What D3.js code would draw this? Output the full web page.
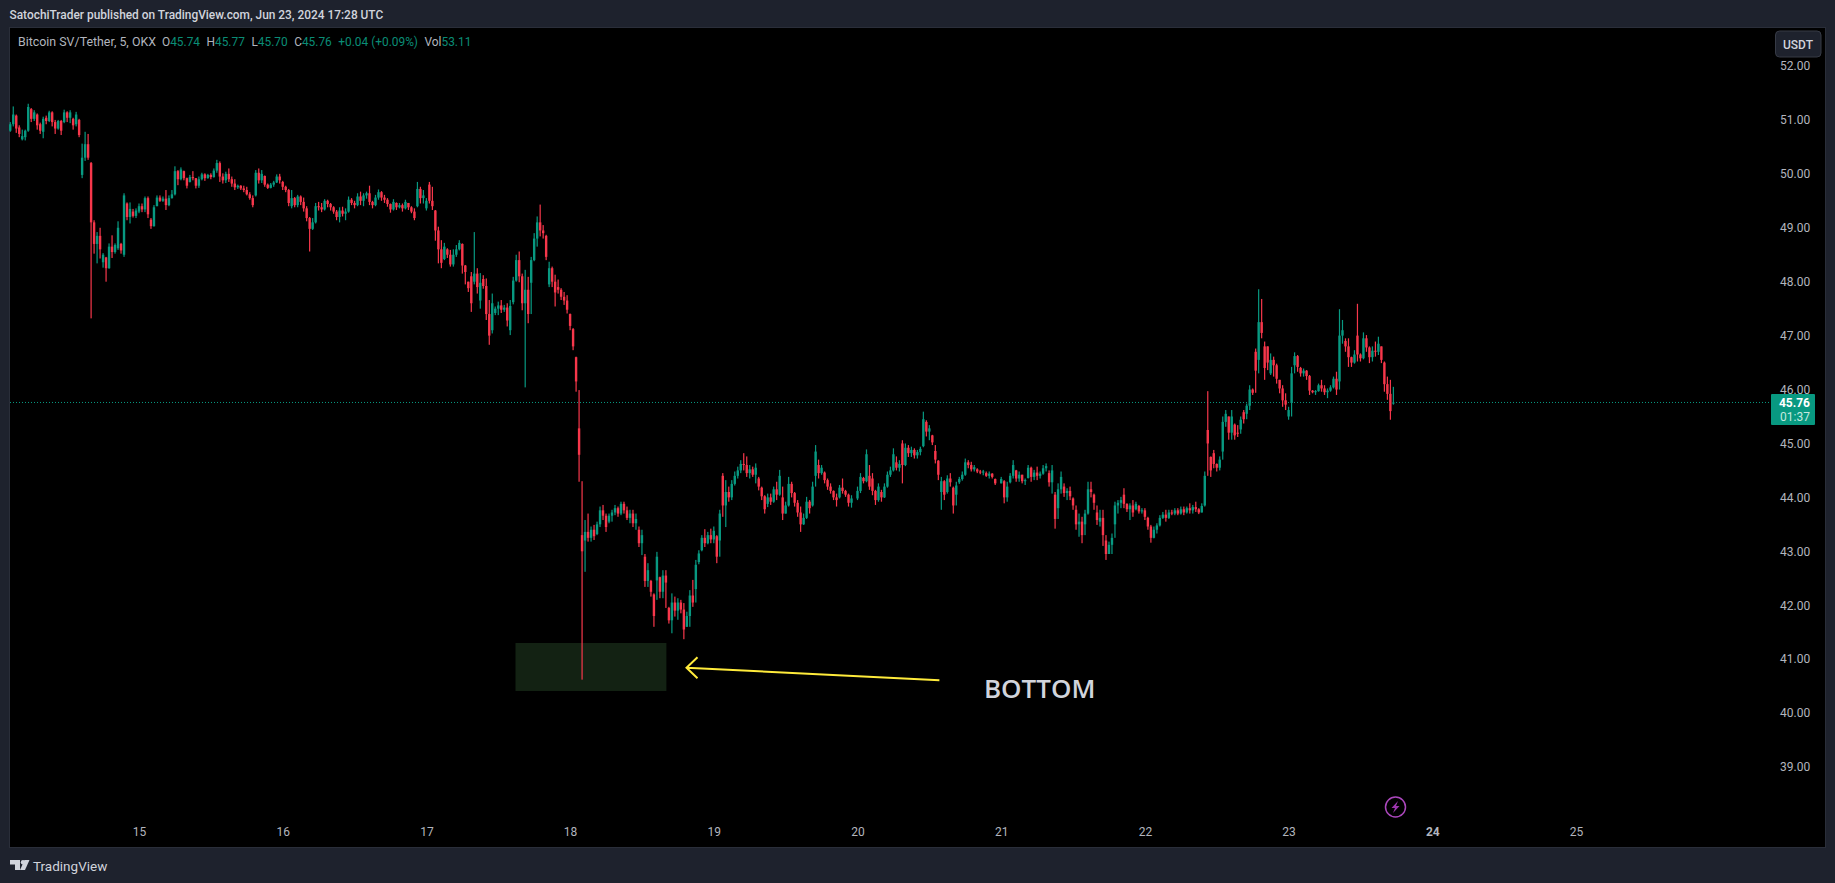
<!DOCTYPE html>
<html>
<head>
<meta charset="utf-8">
<script src="https://cdn.jsdelivr.net/npm/d3@7"></script>
<style>
  html, body { margin: 0; padding: 0; background: #1e222d; overflow: hidden; }
  svg { display: block; font-family: Roboto, sans-serif; }
</style>
</head>
<body>
<svg id="chart" width="1835" height="883"></svg>
<script>
// 30 minute rows: [open, high, low, close]
const june14 = [[50.80,50.96,50.78,50.92],[50.92,51.25,50.88,51.10],[51.08,51.10,50.76,50.84],[50.86,50.90,50.68,50.74],[50.64,50.82,50.62,50.70],[50.68,50.82,50.62,50.80],[50.80,51.30,50.78,51.24],[51.20,51.22,50.96,51.02],[51.02,51.18,50.98,51.14],[51.10,51.12,50.82,50.90],[50.92,50.95,50.74,50.80],[50.78,51.06,50.66,51.02],[51.04,51.08,50.92,50.98],[50.98,51.17,50.96,51.14],[51.14,51.16,50.88,50.96],[50.96,51.00,50.74,50.84],[50.84,51.00,50.82,50.98],[50.98,51.00,50.72,50.80],[50.96,51.19,50.94,51.14],[51.14,51.16,50.96,51.04],[51.04,51.18,50.94,51.14],[51.02,51.04,50.82,50.90],[50.92,51.15,50.88,51.10],[51.00,51.02,50.68,50.72],[49.98,50.56,49.92,50.30],[50.30,50.78,50.24,50.55],[50.55,50.74,50.26,50.30],[50.20,50.22,47.32,49.10],[49.10,49.14,48.52,48.70],[48.70,48.92,48.34,48.85],[48.85,49.00,48.43,48.60],[48.36,48.53,48.26,48.50],[48.45,48.46,48.00,48.25],[48.25,48.71,48.24,48.65],[48.65,48.86,48.44,48.55],[48.55,48.71,48.52,48.68],[48.62,49.12,48.59,49.00],[48.70,48.72,48.52,48.58],[48.50,49.64,48.46,49.60],[49.45,49.47,49.14,49.20],[49.20,49.47,49.08,49.35],[49.30,49.35,49.19,49.22],[49.22,49.36,49.18,49.32]]
const june15 = [[49.30,49.45,49.27,49.40],[49.40,49.45,49.29,49.34],[49.34,49.58,49.29,49.55],[49.55,49.58,49.18,49.25],[49.15,49.18,48.98,49.03],[49.03,49.42,49.02,49.38],[49.40,49.60,49.40,49.56],[49.56,49.60,49.48,49.50],[49.50,49.58,49.48,49.54],[49.54,49.70,49.33,49.42],[49.42,49.60,49.40,49.55],[49.55,49.70,49.54,49.62],[49.62,50.14,49.60,50.05],[50.05,50.07,49.79,49.90],[49.90,50.12,49.88,50.08],[50.05,50.06,49.88,49.92],[49.92,49.93,49.73,49.78],[49.85,49.98,49.84,49.94],[49.94,50.05,49.88,49.92],[49.92,49.92,49.73,49.78],[49.78,49.95,49.74,49.90],[49.90,50.02,49.88,49.99],[49.99,50.01,49.87,49.92],[49.92,50.00,49.91,49.98],[49.98,50.01,49.90,49.94],[49.94,50.10,49.93,50.06],[50.06,50.26,50.02,50.20],[50.20,50.23,49.85,49.95],[49.95,50.01,49.82,49.88],[49.88,50.04,49.83,50.00],[50.00,50.10,49.85,49.90],[49.90,49.95,49.76,49.82],[49.82,49.90,49.70,49.75],[49.75,49.80,49.72,49.78],[49.78,49.79,49.70,49.73],[49.73,49.78,49.66,49.70],[49.70,49.76,49.60,49.62],[49.62,49.66,49.52,49.55],[49.55,49.60,49.38,49.42],[49.60,50.07,49.58,50.02],[50.02,50.10,49.82,49.88],[49.88,50.07,49.83,50.00],[49.96,49.97,49.76,49.80],[49.80,49.82,49.72,49.74],[49.74,49.83,49.73,49.80],[49.80,49.87,49.76,49.84],[49.84,49.99,49.83,49.95],[49.95,50.00,49.82,49.88]]
const june16 = [[49.85,49.87,49.70,49.76],[49.76,49.78,49.66,49.70],[49.70,49.72,49.40,49.46],[49.40,49.70,49.36,49.55],[49.55,49.57,49.38,49.42],[49.42,49.61,49.38,49.58],[49.58,49.60,49.42,49.48],[49.48,49.56,49.30,49.36],[49.36,49.40,49.12,49.18],[49.18,49.20,48.56,48.98],[48.98,49.18,48.96,49.10],[49.10,49.46,49.08,49.40],[49.40,49.48,49.32,49.38],[49.38,49.46,49.29,49.34],[49.34,49.53,49.32,49.50],[49.50,49.52,49.38,49.44],[49.44,49.46,49.32,49.38],[49.38,49.40,49.26,49.30],[49.30,49.33,49.14,49.20],[49.20,49.38,49.10,49.32],[49.32,49.39,49.21,49.26],[49.26,49.36,49.14,49.30],[49.30,49.58,49.28,49.52],[49.52,49.55,49.42,49.46],[49.46,49.50,49.36,49.42],[49.42,49.64,49.40,49.58],[49.58,49.67,49.42,49.50],[49.50,49.64,49.40,49.60],[49.60,49.67,49.54,49.64],[49.64,49.78,49.42,49.48],[49.48,49.50,49.36,49.42],[49.42,49.61,49.40,49.56],[49.56,49.71,49.52,49.66],[49.66,49.68,49.50,49.56],[49.56,49.61,49.46,49.52],[49.52,49.55,49.39,49.44],[49.44,49.45,49.28,49.34],[49.34,49.53,49.32,49.48],[49.46,49.47,49.33,49.38],[49.38,49.46,49.36,49.42],[49.42,49.45,49.30,49.36],[49.36,49.52,49.34,49.48],[49.46,49.46,49.33,49.38],[49.38,49.40,49.27,49.30],[49.30,49.36,49.14,49.18],[49.40,49.85,49.38,49.72],[49.72,49.76,49.45,49.55],[49.55,49.70,49.45,49.60]]
const june17 = [[49.36,49.55,49.32,49.50],[49.80,49.85,49.45,49.50],[49.50,49.76,49.33,49.40],[49.32,49.33,48.76,48.95],[48.95,49.02,48.34,48.60],[48.60,48.77,48.25,48.35],[48.42,48.72,48.40,48.65],[48.60,48.62,48.44,48.50],[48.50,48.59,48.28,48.32],[48.32,48.60,48.28,48.50],[48.50,48.68,48.46,48.60],[48.60,48.77,48.58,48.72],[48.70,48.71,48.15,48.30],[48.30,48.31,47.95,48.18],[48.00,48.00,47.81,47.88],[48.10,48.18,47.44,47.60],[48.00,48.92,47.95,48.15],[48.15,48.25,47.78,47.90],[47.65,48.16,47.50,47.98],[48.05,48.12,47.87,47.92],[47.92,48.06,47.29,47.40],[47.40,47.66,46.83,47.00],[47.10,47.78,47.04,47.60],[47.42,47.54,47.38,47.50],[47.50,47.63,47.38,47.56],[47.56,47.66,47.42,47.48],[47.48,47.57,47.44,47.52],[47.52,47.60,47.17,47.28],[47.10,47.66,47.01,47.55],[47.62,48.09,47.58,48.02],[48.02,48.50,48.00,48.40],[48.40,48.56,47.99,48.10],[48.10,48.15,47.47,47.60],[47.60,48.22,46.04,47.85],[47.85,48.09,47.23,47.40],[47.98,48.46,47.40,48.40],[48.40,48.90,48.38,48.80],[48.80,49.21,48.65,49.10],[49.10,49.43,48.84,48.95],[48.95,49.05,48.80,48.90],[48.85,48.87,48.40,48.46],[47.95,48.37,47.90,48.25],[48.25,48.28,47.90,48.00],[48.00,48.13,47.54,47.80],[47.90,48.04,47.78,47.85],[47.85,47.88,47.66,47.72],[47.72,47.81,47.57,47.65],[47.65,47.75,47.41,47.48]]
const june18 = [[47.40,47.41,47.10,47.18],[47.12,47.14,46.73,46.80],[46.60,46.61,45.96,46.15],[45.28,45.99,44.29,44.79],[43.30,44.30,40.62,43.00],[43.20,43.58,42.62,43.36],[43.36,43.70,43.18,43.25],[43.25,43.46,43.18,43.40],[43.40,43.49,43.21,43.28],[43.32,43.55,43.30,43.50],[43.50,43.83,43.45,43.76],[43.76,43.86,43.58,43.66],[43.66,43.70,43.36,43.45],[43.55,43.70,43.52,43.66],[43.66,43.77,43.55,43.72],[43.72,43.86,43.67,43.80],[43.80,43.83,43.64,43.70],[43.70,43.92,43.67,43.88],[43.88,43.92,43.70,43.76],[43.76,43.83,43.58,43.62],[43.62,43.77,43.52,43.70],[43.70,43.77,43.45,43.52],[43.52,43.70,43.40,43.60],[43.40,43.46,43.08,43.15],[43.15,43.40,42.93,43.30],[42.90,42.95,42.34,42.45],[42.45,42.78,42.34,42.65],[42.45,42.47,42.16,42.25],[42.20,42.22,41.60,41.80],[42.46,42.99,42.10,42.90],[42.52,42.53,42.13,42.25],[42.25,42.65,42.13,42.55],[42.55,42.65,41.95,42.42],[41.95,41.97,41.66,41.72],[41.72,42.22,41.48,42.05],[42.05,42.16,41.79,41.90],[41.90,42.13,41.73,42.05],[42.05,42.10,41.85,41.92],[41.92,42.04,41.37,41.55],[41.60,41.88,41.60,41.80],[41.80,42.28,41.60,42.18],[42.18,42.47,41.97,42.05],[42.30,42.84,42.05,42.75],[42.80,43.02,42.76,42.96],[43.02,43.30,43.00,43.25],[43.25,43.41,43.08,43.15],[43.15,43.36,43.13,43.30],[43.30,43.42,43.15,43.22]]
const june19 = [[43.22,43.46,43.15,43.38],[43.28,43.30,42.78,42.90],[43.20,43.77,42.90,43.70],[44.40,44.45,43.64,43.85],[43.85,44.32,43.45,44.10],[44.10,44.20,43.92,44.00],[44.00,44.32,43.95,44.25],[44.25,44.48,44.22,44.40],[44.40,44.57,44.35,44.50],[44.50,44.69,44.45,44.62],[44.62,44.82,44.50,44.60],[44.60,44.76,44.38,44.45],[44.45,44.60,44.35,44.52],[44.52,44.57,44.38,44.42],[44.42,44.63,44.26,44.55],[44.35,44.38,44.13,44.20],[44.18,44.20,43.95,44.02],[44.02,44.04,43.70,43.78],[43.88,44.07,43.82,44.00],[44.00,44.07,43.86,43.92],[43.92,44.20,43.90,44.15],[44.15,44.29,43.95,44.05],[44.05,44.51,44.03,44.40],[44.00,44.20,43.58,43.70],[43.70,43.92,43.70,43.85],[43.85,44.38,43.83,44.25],[44.25,44.29,44.00,44.08],[44.08,44.10,43.83,43.90],[43.90,43.95,43.64,43.72],[43.72,43.83,43.36,43.50],[43.50,43.70,43.49,43.62],[43.62,44.01,43.60,43.92],[43.92,43.95,43.70,43.80],[43.85,44.29,43.83,44.20],[44.40,44.97,44.20,44.85],[44.60,44.70,44.35,44.45],[44.45,44.60,44.42,44.55],[44.46,44.48,44.26,44.32],[44.32,44.35,44.14,44.20],[44.20,44.26,44.07,44.12],[44.12,44.13,43.95,44.00],[44.00,44.07,43.83,43.95],[44.00,44.23,43.98,44.18],[44.18,44.35,44.07,44.12],[44.12,44.14,44.01,44.05],[44.05,44.07,43.83,43.90],[43.90,44.04,43.81,43.98]]
const june20 = [[43.98,44.20,43.95,44.12],[44.12,44.45,44.08,44.38],[44.36,44.38,44.26,44.30],[44.30,44.89,44.28,44.80],[44.40,44.60,44.14,44.20],[44.35,44.45,44.04,44.12],[44.12,44.14,43.86,43.95],[43.95,44.26,43.92,44.20],[44.10,44.14,43.92,44.00],[44.00,44.26,43.99,44.20],[44.20,44.48,44.18,44.42],[44.42,44.57,44.38,44.50],[44.50,44.91,44.48,44.80],[44.65,44.76,44.50,44.55],[44.55,44.69,44.48,44.62],[45.00,45.06,44.26,44.60],[44.60,45.00,44.58,44.92],[44.92,44.97,44.75,44.82],[44.82,44.94,44.75,44.88],[44.88,44.91,44.72,44.78],[44.78,44.88,44.72,44.84],[44.84,44.94,44.78,44.90],[44.95,45.59,44.93,45.45],[45.40,45.43,45.13,45.22],[45.22,45.34,45.06,45.28],[45.15,45.16,44.97,45.02],[44.86,44.97,44.63,44.70],[44.68,44.69,44.32,44.42],[44.10,44.38,43.77,44.30],[44.30,44.32,43.95,44.05],[44.10,44.41,44.07,44.35],[44.35,44.45,44.20,44.28],[44.18,44.20,43.70,43.85],[44.05,44.29,43.85,44.22],[44.28,44.38,44.25,44.34],[44.34,44.48,44.31,44.42],[44.42,44.72,44.40,44.65],[44.65,44.69,44.54,44.60],[44.60,44.66,44.48,44.52],[44.52,44.60,44.48,44.56],[44.52,44.54,44.45,44.48],[44.48,44.51,44.43,44.46],[44.46,44.51,44.41,44.48],[44.45,44.48,44.38,44.40],[44.40,44.48,44.35,44.44],[44.44,44.45,44.35,44.38],[44.34,44.35,44.23,44.26]]
const june21 = [[44.26,44.38,44.26,44.34],[44.30,44.32,43.89,44.00],[44.00,44.29,43.92,44.20],[44.28,44.45,44.26,44.40],[44.40,44.69,44.35,44.60],[44.50,44.51,44.29,44.35],[44.35,44.48,44.29,44.42],[44.42,44.42,44.26,44.30],[44.30,44.35,44.23,44.32],[44.36,44.60,44.35,44.55],[44.55,44.57,44.29,44.38],[44.38,44.51,44.32,44.46],[44.46,44.57,44.32,44.40],[44.40,44.48,44.35,44.44],[44.44,44.60,44.42,44.54],[44.54,44.63,44.48,44.58],[44.45,44.50,44.20,44.28],[44.28,44.60,44.07,44.50],[44.05,44.10,43.42,43.60],[43.80,44.26,43.60,44.15],[44.15,44.48,44.07,44.38],[44.20,44.26,44.01,44.08],[44.08,44.17,43.95,44.12],[44.12,44.20,43.95,44.02],[43.98,44.00,43.77,43.85],[43.77,43.85,43.40,43.50],[43.50,43.70,43.27,43.55],[43.55,43.64,43.15,43.30],[43.50,43.77,43.30,43.70],[43.70,44.29,43.68,44.15],[44.15,44.29,44.00,44.10],[44.05,44.07,43.77,43.90],[43.72,43.85,43.49,43.58],[43.55,43.77,43.46,43.62],[43.62,43.77,43.10,43.30],[43.20,43.30,42.84,42.95],[42.95,43.18,42.95,43.12],[43.12,43.33,42.95,43.25],[43.50,43.92,43.25,43.85],[43.85,43.95,43.70,43.90],[43.90,44.01,43.80,43.95],[44.05,44.17,43.80,43.88],[43.88,43.89,43.73,43.78],[43.78,43.89,43.58,43.85],[43.85,43.95,43.64,43.72],[43.78,43.92,43.76,43.88],[43.84,43.86,43.70,43.74],[43.74,43.80,43.70,43.76]]
const june22 = [[43.76,43.80,43.58,43.64],[43.62,43.64,43.40,43.46],[43.46,43.49,43.16,43.25],[43.25,43.46,43.24,43.40],[43.40,43.52,43.33,43.48],[43.48,43.67,43.46,43.62],[43.62,43.73,43.60,43.68],[43.68,43.77,43.55,43.62],[43.62,43.77,43.60,43.72],[43.72,43.77,43.67,43.70],[43.70,43.80,43.67,43.76],[43.76,43.80,43.67,43.70],[43.70,43.83,43.68,43.78],[43.78,43.83,43.67,43.72],[43.72,43.83,43.70,43.80],[43.80,43.89,43.70,43.76],[43.76,43.86,43.70,43.82],[43.82,43.92,43.73,43.78],[43.78,43.80,43.69,43.72],[43.72,43.89,43.72,43.84],[43.85,44.48,43.83,44.40],[45.25,45.97,44.40,45.00],[44.75,44.76,44.38,44.50],[44.82,44.88,44.54,44.62],[44.62,44.63,44.48,44.55],[44.55,44.76,44.50,44.70],[44.85,45.50,44.70,45.40],[45.40,45.62,45.31,45.55],[45.50,45.50,45.07,45.20],[45.20,45.62,45.07,45.50],[45.35,45.37,45.07,45.15],[45.20,45.34,45.12,45.18],[45.26,45.50,45.18,45.44],[45.58,45.62,45.37,45.45],[45.55,45.74,45.45,45.70],[45.70,46.08,45.62,46.00],[46.00,46.02,45.90,45.94],[46.70,46.76,45.94,46.35],[46.55,47.86,46.30,47.25],[47.25,47.68,46.95,47.05],[46.80,46.89,46.18,46.40],[46.80,46.80,46.36,46.50],[46.30,46.67,46.27,46.55],[46.55,46.61,46.24,46.45],[46.45,46.48,46.11,46.20],[46.18,46.18,45.93,46.02],[46.02,46.08,45.68,45.80],[45.80,45.93,45.62,45.72]]
const june23 = [[45.50,45.68,45.44,45.62],[45.75,46.42,45.50,46.30],[46.45,46.69,46.30,46.62],[46.62,46.64,46.33,46.42],[46.40,46.42,46.24,46.30],[46.30,46.39,46.24,46.35],[46.35,46.36,46.18,46.25],[46.25,46.27,45.90,45.98],[45.98,45.99,45.93,45.95],[45.95,45.99,45.90,45.97],[45.97,46.11,45.96,46.08],[46.08,46.18,45.96,46.02],[46.02,46.08,45.90,45.95],[45.95,46.02,45.84,45.98],[45.98,46.08,45.96,46.04],[46.04,46.24,46.02,46.20],[46.20,46.33,45.90,46.00],[46.15,47.49,46.00,47.00],[47.00,47.29,46.85,47.10],[46.90,46.95,46.70,46.80],[46.80,46.95,46.42,46.60],[46.60,46.61,46.42,46.50],[46.50,46.73,46.48,46.65],[47.00,47.59,46.52,46.65],[46.65,46.67,46.52,46.58],[46.58,47.06,46.56,46.95],[46.95,47.01,46.70,46.78],[46.78,46.80,46.49,46.60],[46.60,46.80,46.52,46.72],[46.72,46.89,46.61,46.70],[46.70,46.98,46.64,46.85],[46.80,46.80,46.49,46.55],[46.50,46.52,45.96,46.10],[46.10,46.24,45.81,45.92],[45.92,46.18,45.44,45.60],[45.74,46.05,45.72,45.76]]

const dayRows = [june14, june15, june16, june17, june18, june19, june20, june21, june22, june23]
const dayNumbers = [14, 15, 16, 17, 18, 19, 20, 21, 22, 23]

const priceTicks = [52, 51, 50, 49, 48, 47, 46, 45, 44, 43, 42, 41, 40, 39]
const dayTicks = [15, 16, 17, 18, 19, 20, 21, 22, 23, 24, 25]

const publishedBy = 'SatochiTrader published on TradingView.com, Jun 23, 2024 17:28 UTC'
const symbolName = 'Bitcoin SV/Tether, 5, OKX'
const legendLabels = ['O', 'H', 'L', 'C']
const legendValues = ['45.74', '45.77', '45.70', '45.76']
const legendChange = '+0.04 (+0.09%)'
const volumeValue = '53.11'
const lastPrice = 45.76
const countdown = '01:37'
const currency = 'USDT'

const bottomBoxDays = [17.62, 18.67]
const bottomBoxPrices = [41.30, 40.41]
const arrowDays = [20.57, 18.81]
const arrowPrices = [40.61, 40.84]
const noteText = 'BOTTOM'
const noteDay = 20.88
const notePrice = 40.28

const UP = '#089981'
const DOWN = '#f7374b'
const LABEL = '#b2b5be'
const PANEL = '#1e222d'
const BORDER = '#2a2e39'

const dayToDate = d => new Date(Date.UTC(2024, 5, 1) + (d - 1) * 864e5)

const x = d3.scaleUtc()
  .domain([dayToDate(15), dayToDate(25)])
  .range([139, 1576])

const y = d3.scaleLinear()
  .domain([52, 39])
  .range([66, 767])

const candles = []
dayRows.forEach((rows, i) => {
  // the first day is cut by the left edge, so it ends at midnight instead of starting there
  const start = i === 0 ? dayNumbers[1] - rows.length / 48 : dayNumbers[i]
  rows.forEach((r, k) => {
    candles.push({ t: dayToDate(start + k / 48), open: r[0], high: r[1], low: r[2], close: r[3] })
  })
})

const svg = d3.select('#chart')

svg.append('rect').attr('width', 1835).attr('height', 883).attr('fill', PANEL)
svg.append('rect')
  .attr('x', 9.5).attr('y', 27.5).attr('width', 1816).attr('height', 820)
  .attr('fill', '#000').attr('stroke', BORDER)

svg.append('text')
  .attr('x', 9.5).attr('y', 19)
  .attr('font-size', 11.9).attr('font-weight', 500).attr('fill', '#d1d4dc')
  .text(publishedBy)

// legend
const legend = svg.append('text')
  .attr('x', 18).attr('y', 46)
  .attr('font-size', 11.9).attr('fill', LABEL)
legend.append('tspan').attr('font-size', 12.4).text(symbolName)
legendLabels.forEach((label, i) => {
  legend.append('tspan').attr('dx', i === 0 ? 6 : 6.5).text(label)
  legend.append('tspan').attr('fill', '#0a8d76').text(legendValues[i])
})
legend.append('tspan').attr('dx', 6.5).attr('fill', '#0a8d76').text(legendChange)
legend.append('tspan').attr('dx', 6.5).text('Vol')
legend.append('tspan').attr('fill', '#0a8d76').text(volumeValue)

// axes
const xAxis = svg.append('g')
  .attr('transform', 'translate(0,822)')
  .call(d3.axisBottom(x)
    .tickValues(dayTicks.map(dayToDate))
    .tickFormat(d3.utcFormat('%-d'))
    .tickSize(0)
    .tickPadding(5))
xAxis.select('.domain').remove()
xAxis.selectAll('text')
  .attr('fill', LABEL).attr('font-size', 12).attr('font-family', 'Roboto, sans-serif')
  .attr('font-weight', (d, i) => dayTicks[i] === 24 ? 700 : 400)

const yAxis = svg.append('g')
  .attr('transform', 'translate(1780,0)')
  .call(d3.axisRight(y)
    .tickValues(priceTicks)
    .tickFormat(d3.format('.2f'))
    .tickSize(0)
    .tickPadding(0))
yAxis.select('.domain').remove()
yAxis.selectAll('text').attr('fill', LABEL).attr('font-size', 12).attr('font-family', 'Roboto, sans-serif')

// highlighted zone sits under the candles
svg.append('rect')
  .attr('x', x(dayToDate(bottomBoxDays[0])))
  .attr('y', y(bottomBoxPrices[0]))
  .attr('width', x(dayToDate(bottomBoxDays[1])) - x(dayToDate(bottomBoxDays[0])))
  .attr('height', y(bottomBoxPrices[1]) - y(bottomBoxPrices[0]))
  .attr('fill', '#132213')

// last price line
svg.append('line')
  .attr('x1', 10).attr('x2', 1771)
  .attr('y1', y(lastPrice)).attr('y2', y(lastPrice))
  .attr('stroke', UP).attr('stroke-width', 1).attr('stroke-dasharray', '1 2')

// candles
const candleColor = d => d.close >= d.open ? UP : DOWN
const candle = svg.append('g')
  .selectAll('g')
  .data(candles)
  .enter()
  .append('g')
  .attr('fill', candleColor)

candle.append('rect')
  .attr('x', d => x(d.t) - 0.6)
  .attr('width', 1.2)
  .attr('y', d => y(d.high))
  .attr('height', d => y(d.low) - y(d.high))

candle.append('rect')
  .attr('x', d => x(d.t) - 1.2)
  .attr('width', 2.4)
  .attr('y', d => y(Math.max(d.open, d.close)))
  .attr('height', d => Math.max(1, Math.abs(y(d.open) - y(d.close))))

// price label on the scale
svg.append('rect')
  .attr('x', 1771).attr('y', 394).attr('width', 44).attr('height', 31).attr('rx', 1)
  .attr('fill', UP)
svg.append('text')
  .attr('x', 1810).attr('y', 407).attr('text-anchor', 'end')
  .attr('font-size', 12).attr('font-weight', 700).attr('fill', '#fff')
  .text(lastPrice.toFixed(2))
svg.append('text')
  .attr('x', 1810).attr('y', 421).attr('text-anchor', 'end')
  .attr('font-size', 12).attr('fill', '#c4e8df')
  .text(countdown)

// currency button
svg.append('rect')
  .attr('x', 1775.5).attr('y', 31).attr('width', 45.5).attr('height', 26).attr('rx', 4)
  .attr('fill', PANEL).attr('stroke', '#363a45')
svg.append('text')
  .attr('x', 1798).attr('y', 49).attr('text-anchor', 'middle')
  .attr('font-size', 12).attr('font-weight', 500).attr('fill', '#d1d4dc')
  .text(currency)

// annotation
const tip = [x(dayToDate(arrowDays[1])), y(arrowPrices[1])]
const tail = [x(dayToDate(arrowDays[0])), y(arrowPrices[0])]
svg.append('path')
  .attr('d', `M${tail[0]},${tail[1]}L${tip[0]},${tip[1]}M${tip[0] + 11},${tip[1] - 10.5}L${tip[0]},${tip[1]}L${tip[0] + 11},${tip[1] + 10.5}`)
  .attr('fill', 'none').attr('stroke', '#ffeb3b').attr('stroke-width', 2)

svg.append('text')
  .attr('x', x(dayToDate(noteDay))).attr('y', y(notePrice))
  .attr('font-family', '"Open Sans", sans-serif')
  .attr('font-size', 26).attr('font-weight', 600).attr('fill', '#d1d4dc')
  .text(noteText)

// lightning badge
const badge = svg.append('g').attr('transform', 'translate(1395.5,807)')
badge.append('circle').attr('r', 10).attr('fill', 'none').attr('stroke', '#ab47bc').attr('stroke-width', 1.5)
badge.append('path').attr('d', 'M2.5,-6L-4,1H-0.5L-2.5,6L4,-1H0.5Z').attr('fill', '#9c35ad')

// footer logo
const logo = svg.append('g').attr('fill', '#d1d4dc')
logo.append('path').attr('d', 'M10,860H20V870H15V864.5H10Z')
logo.append('circle').attr('cx', 23).attr('cy', 862.2).attr('r', 2.2)
logo.append('path').attr('d', 'M24.5,860H29.5L25,870H20Z')
svg.append('text')
  .attr('x', 33).attr('y', 870.5)
  .attr('font-size', 13.5).attr('fill', '#d1d4dc')
  .text('TradingView')
</script>
</body>
</html>
